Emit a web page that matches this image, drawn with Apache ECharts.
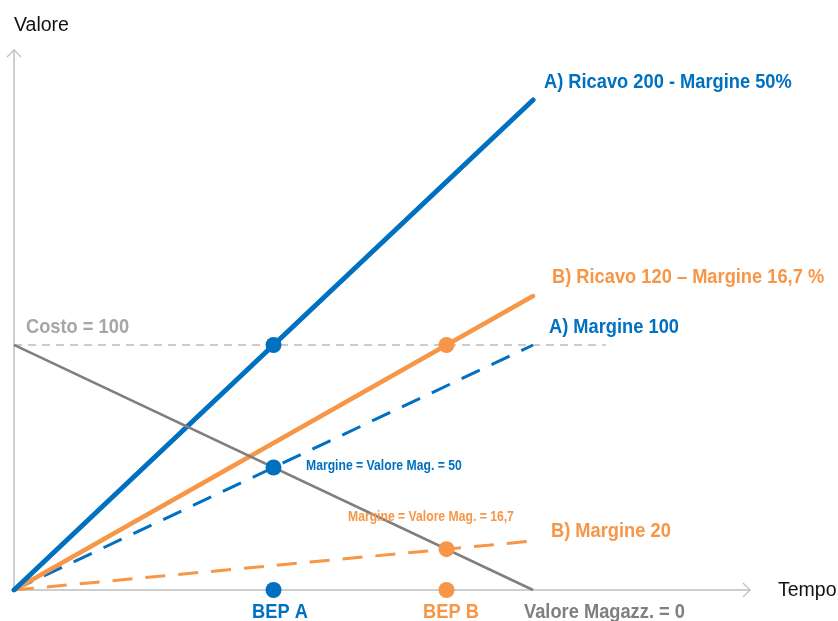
<!DOCTYPE html>
<html>
<head>
<meta charset="utf-8">
<script src="https://cdn.jsdelivr.net/npm/echarts@6/dist/echarts.min.js"></script>
<style>
  html, body { margin: 0; padding: 0; background: #fff; }
  #main { width: 838px; height: 621px; }
</style>
</head>
<body>
<div id="main"></div>
<script>
// dati (tempo normalizzato: 1 = fine periodo)
var tempo = [0, 1];
var ricavoA = [0, 200];
var ricavoB = [0, 120];
var margineA = [0, 100];
var margineB = [0, 20];
var valoreMag = [100, 0];
var costoX = [0, 1.14];
var costo = [100, 100];
var bepA = 0.5;
var bepB = 100 / 120;
var puntiA = [[bepA, 100], [bepA, 50], [bepA, 0]];
var puntiB = [[bepB, 100], [bepB, 100 / 6], [bepB, 0]];

var BLU = '#0070C0';
var ARANCIO = '#F79646';
var GRIGIO = '#7F7F7F';
var FONT = '"Liberation Sans Narrow", "Arial Narrow", "Liberation Sans", Arial, sans-serif';

function coppie(xs, ys) {
    return xs.map(function (x, i) { return [x, ys[i]]; });
}

var chart = echarts.init(document.getElementById('main'));

var option = {
    animation: false,
    grid: { left: 14, right: 88, top: 50, bottom: 31 },
    xAxis: {
        type: 'value', min: 0, max: 1.418,
        splitLine: { show: false }, axisTick: { show: false }, axisLabel: { show: false },
        axisLine: { show: true, lineStyle: { color: '#BFBFBF', width: 1.5 } }
    },
    yAxis: {
        type: 'value', min: 0, max: 220.4,
        splitLine: { show: false }, axisTick: { show: false }, axisLabel: { show: false },
        axisLine: { show: true, lineStyle: { color: '#BFBFBF', width: 1.5 } }
    },
    series: [
        {
            name: 'Costo', type: 'line', data: coppie(costoX, costo), symbol: 'none',
            lineStyle: { color: '#999', width: 1.2, type: [8, 6] }, z: 1
        },
        {
            name: 'B) Margine 20', type: 'line', data: coppie(tempo, margineB), symbol: 'none',
            lineStyle: { color: ARANCIO, width: 3, type: [20, 13] }, z: 2
        },
        {
            name: 'A) Margine 100', type: 'line', data: coppie(tempo, margineA), symbol: 'none',
            lineStyle: { color: BLU, width: 3, type: [20, 13] }, z: 2
        },
        {
            name: 'B) Ricavo 120', type: 'line', data: coppie(tempo, ricavoB), symbol: 'none',
            lineStyle: { color: ARANCIO, width: 4.5, cap: 'round' }, z: 3
        },
        {
            name: 'A) Ricavo 200', type: 'line', data: coppie(tempo, ricavoA), symbol: 'none',
            lineStyle: { color: BLU, width: 5, cap: 'round' }, z: 4
        },
        {
            name: 'Valore Magazzino', type: 'line', data: coppie(tempo, valoreMag), symbol: 'none',
            lineStyle: { color: GRIGIO, width: 2.5 }, z: 5
        },
        {
            name: 'BEP A', type: 'scatter', data: puntiA, symbolSize: 16, clip: false,
            itemStyle: { color: BLU, opacity: 1 }, z: 6
        },
        {
            name: 'BEP B', type: 'scatter', data: puntiB, symbolSize: 16, clip: false,
            itemStyle: { color: ARANCIO, opacity: 1 }, z: 6
        }
    ]
};
chart.setOption(option);

// testi e frecce degli assi
var fineX = chart.convertToPixel({ gridIndex: 0 }, [1.418, 0]);
var fineY = chart.convertToPixel({ gridIndex: 0 }, [0, 220.4]);

// testo stretto (simula Arial Narrow) centrato verticalmente su y
function testo(x, y, t, col, size) {
    return {
        type: 'text', x: x, y: y, scaleX: 0.87, z: 10,
        style: { text: t, fill: col, fontSize: size, fontWeight: 'bold', fontFamily: FONT, verticalAlign: 'middle' }
    };
}
function testoAsse(x, y, t) {
    return {
        type: 'text', x: x, y: y, z: 10,
        style: { text: t, fill: '#111', fontSize: 19.5, fontFamily: '"Liberation Sans", Arial, sans-serif', verticalAlign: 'middle' }
    };
}

chart.setOption({
    graphic: [
        { type: 'polyline', shape: { points: [[fineX[0] - 7, fineX[1] - 7], [fineX[0], fineX[1]], [fineX[0] - 7, fineX[1] + 7]] },
          style: { stroke: '#BFBFBF', lineWidth: 1.3, fill: null }, z: 10 },
        { type: 'polyline', shape: { points: [[fineY[0] - 7, fineY[1] + 7], [fineY[0], fineY[1]], [fineY[0] + 7, fineY[1] + 7]] },
          style: { stroke: '#BFBFBF', lineWidth: 1.3, fill: null }, z: 10 },
        testoAsse(14, 26, 'Valore'),
        testoAsse(778, 591, 'Tempo'),
        testo(544, 82, 'A) Ricavo 200 - Margine 50%', BLU, 21),
        testo(552, 277, 'B) Ricavo 120 \u2013 Margine 16,7 %', ARANCIO, 21),
        testo(549, 327, 'A) Margine 100', BLU, 21),
        testo(26, 327, 'Costo = 100', '#A6A6A6', 21),
        testo(306, 466, 'Margine = Valore Mag. = 50', BLU, 14),
        testo(348, 517, 'Margine = Valore Mag. = 16,7', ARANCIO, 14),
        testo(551, 531, 'B) Margine 20', ARANCIO, 21),
        testo(252, 612, 'BEP A', BLU, 21),
        testo(423, 612, 'BEP B', ARANCIO, 21),
        testo(524, 612, 'Valore Magazz. = 0', GRIGIO, 21)
    ]
});
</script>
</body>
</html>
